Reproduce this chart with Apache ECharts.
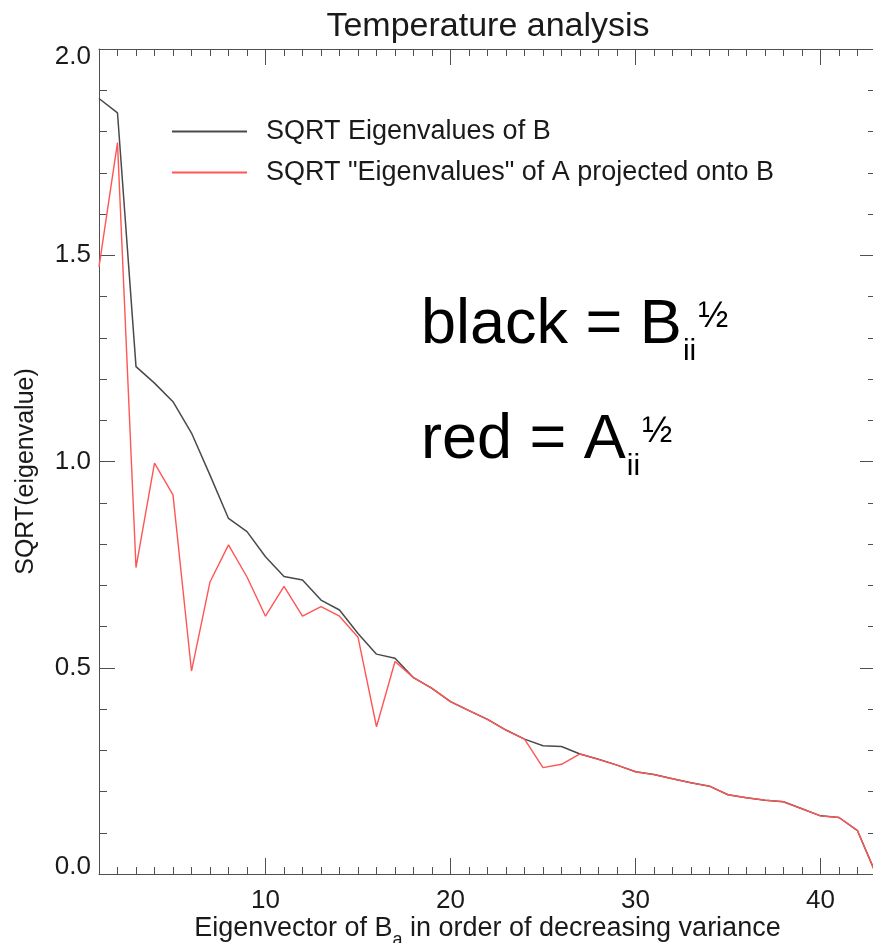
<!DOCTYPE html>
<html>
<head>
<meta charset="utf-8">
<script src="https://cdn.jsdelivr.net/npm/echarts@6/dist/echarts.min.js"></script>
<style>
  html, body { margin: 0; padding: 0; background: #fff; }
  #chart { width: 873px; height: 943px; }
</style>
</head>
<body>
<div id="chart"></div>
<script>
// Eigenvector index (order of decreasing variance)
const eigenIndex = [1, 2, 3, 4, 5, 6, 7, 8, 9, 10, 11, 12, 13, 14, 15, 16, 17, 18, 19, 20, 21,
  22, 23, 24, 25, 26, 27, 28, 29, 30, 31, 32, 33, 34, 35, 36, 37, 38, 39, 40, 41, 42, 43];

// SQRT eigenvalues of B
const sqrtEigB = [1.880, 1.845, 1.230, 1.190, 1.145, 1.069, 0.967, 0.862, 0.830, 0.769, 0.721,
  0.713, 0.664, 0.640, 0.583, 0.533, 0.523, 0.476, 0.450, 0.418, 0.396, 0.375, 0.349, 0.327,
  0.311, 0.309, 0.291, 0.278, 0.264, 0.248, 0.241, 0.231, 0.221, 0.213, 0.192, 0.185, 0.179,
  0.175, 0.158, 0.141, 0.137, 0.105, 0.000];

// SQRT "eigenvalues" of A projected onto B
const sqrtEigAonB = [1.472, 1.773, 0.743, 0.996, 0.919, 0.492, 0.708, 0.798, 0.720, 0.625, 0.697,
  0.625, 0.648, 0.625, 0.574, 0.357, 0.515, 0.476, 0.450, 0.418, 0.396, 0.375, 0.349, 0.327,
  0.258, 0.266, 0.291, 0.278, 0.264, 0.248, 0.241, 0.231, 0.221, 0.213, 0.192, 0.185, 0.179,
  0.175, 0.158, 0.141, 0.137, 0.105, 0.000];

const seriesNames = ['SQRT Eigenvalues of B', 'SQRT "Eigenvalues" of A projected onto B'];
const xMajorTicks = [10, 20, 30, 40];
const xRange = [1, 43];
const yRange = [0, 2];
const yMajorStep = 0.5;

const FONT = '"Liberation Sans", Arial, Helvetica, sans-serif';
const AXIS_COLOR = '#505050';
const TEXT_COLOR = '#1a1a1a';
const BLACK_LINE = '#4a4a4a';
const RED_LINE = '#ff5555';

const toPairs = (xs, ys) => xs.map((x, i) => [x, ys[i]]);

// text width helper for laying out the formula annotations
const measureCtx = document.createElement('canvas').getContext('2d');
function textWidth(str, size) {
  measureCtx.font = size + 'px ' + FONT;
  return measureCtx.measureText(str).width;
}
function textAt(str, size, x, baseline) {
  return {
    type: 'text', x: x, y: baseline - 0.8465 * size, silent: true,
    style: { text: str, font: size + 'px ' + FONT, fill: '#000',
             textVerticalAlign: 'top', verticalAlign: 'top' }
  };
}
// "label = X_ii^½"
function formula(main, x, baseline) {
  const mainSize = 63, subSize = 30, supSize = 36;
  const wMain = textWidth(main, mainSize);
  const wSub = textWidth('ii', subSize);
  return [
    textAt(main, mainSize, x, baseline),
    textAt('ii', subSize, x + wMain + 1, baseline + 15),
    textAt('\u00BD', supSize, x + wMain + wSub + 3, baseline - 17)
  ];
}

const axisLine = { show: true, lineStyle: { color: AXIS_COLOR, width: 1 } };
const noSplit = { show: false };

function xAxisPair(position, withLabels) {
  const minor = {
    type: 'value', position: position, min: xRange[0], max: xRange[1], interval: 1,
    axisLine: axisLine,
    axisTick: { show: true, inside: true, length: 7, lineStyle: { color: AXIS_COLOR } },
    axisLabel: { show: false }, splitLine: noSplit
  };
  const major = {
    type: 'value', position: position, min: xRange[0], max: xRange[1],
    axisLine: { show: false },
    axisTick: { show: true, inside: true, length: 16, customValues: xMajorTicks,
                lineStyle: { color: AXIS_COLOR } },
    axisLabel: withLabels
      ? { show: true, customValues: xMajorTicks, fontSize: 26, fontFamily: FONT,
          color: TEXT_COLOR, margin: 14 }
      : { show: false },
    splitLine: noSplit
  };
  if (withLabels) {
    major.name = '{t|Eigenvector of B}{s|a}{t| in order of decreasing variance}';
    major.nameLocation = 'middle';
    major.nameGap = 41;
    major.nameMoveOverlap = false;
    major.nameTextStyle = {
      fontFamily: FONT, color: TEXT_COLOR,
      rich: {
        t: { fontSize: 27, fontFamily: FONT, color: TEXT_COLOR, lineHeight: 27 },
        s: { fontSize: 18, fontFamily: FONT, color: TEXT_COLOR, lineHeight: 18,
             verticalAlign: 'top', padding: [16, 0, 0, 0] }
      }
    };
  }
  return [minor, major];
}

function yAxisDef(position, withLabels) {
  const ax = {
    type: 'value', position: position, min: yRange[0], max: yRange[1], interval: yMajorStep,
    axisLine: axisLine,
    axisTick: { show: true, inside: true, length: 16, lineStyle: { color: AXIS_COLOR } },
    minorTick: { show: true, splitNumber: 5, length: 8, lineStyle: { color: AXIS_COLOR } },
    splitLine: noSplit, minorSplitLine: noSplit,
    axisLabel: withLabels
      ? { show: true, fontSize: 26, lineHeight: 15, fontFamily: FONT, color: TEXT_COLOR,
          margin: 8, formatter: v => v.toFixed(1),
          verticalAlignMinLabel: 'bottom', verticalAlignMaxLabel: 'top' }
      : { show: false }
  };
  if (withLabels) {
    ax.name = 'SQRT(eigenvalue)';
    ax.nameLocation = 'middle';
    ax.nameRotate = 90;
    ax.nameGap = 60;
    ax.nameMoveOverlap = false;
    ax.nameTextStyle = { fontSize: 25, fontFamily: FONT, color: TEXT_COLOR,
                         padding: [0, 20, 0, 0] };
  }
  return ax;
}

const chart = echarts.init(document.getElementById('chart'), null, { renderer: 'canvas' });

chart.setOption({
  animation: false,
  backgroundColor: '#ffffff',
  title: {
    text: 'Temperature analysis',
    left: 483, top: 5, textAlign: 'center',
    textStyle: { fontSize: 34, fontWeight: 'normal', fontFamily: FONT, color: TEXT_COLOR }
  },
  grid: { left: 99, top: 49, width: 777, height: 825, containLabel: false,
          outerBoundsMode: 'none' },
  legend: {
    orient: 'vertical', left: 172, top: 118, padding: 0,
    itemWidth: 75, itemHeight: 2, itemGap: 14,
    selectedMode: false,
    icon: 'rect',
    data: seriesNames,
    textStyle: { fontSize: 27, fontFamily: FONT, color: TEXT_COLOR, padding: [0, 0, 0, 14] }
  },
  xAxis: [...xAxisPair('bottom', true), ...xAxisPair('top', false)],
  yAxis: [yAxisDef('left', true), yAxisDef('right', false)],
  series: [
    {
      name: seriesNames[0], type: 'line', xAxisIndex: 0, yAxisIndex: 0,
      data: toPairs(eigenIndex, sqrtEigB), symbol: 'none',
      lineStyle: { color: BLACK_LINE, width: 1.5 }, itemStyle: { color: BLACK_LINE }
    },
    {
      name: seriesNames[1], type: 'line', xAxisIndex: 0, yAxisIndex: 0,
      data: toPairs(eigenIndex, sqrtEigAonB), symbol: 'none',
      lineStyle: { color: RED_LINE, width: 1.4 }, itemStyle: { color: RED_LINE }
    }
  ],
  graphic: [
    ...formula('black = B', 421, 347),
    ...formula('red = A', 421, 462)
  ]
});
</script>
</body>
</html>
